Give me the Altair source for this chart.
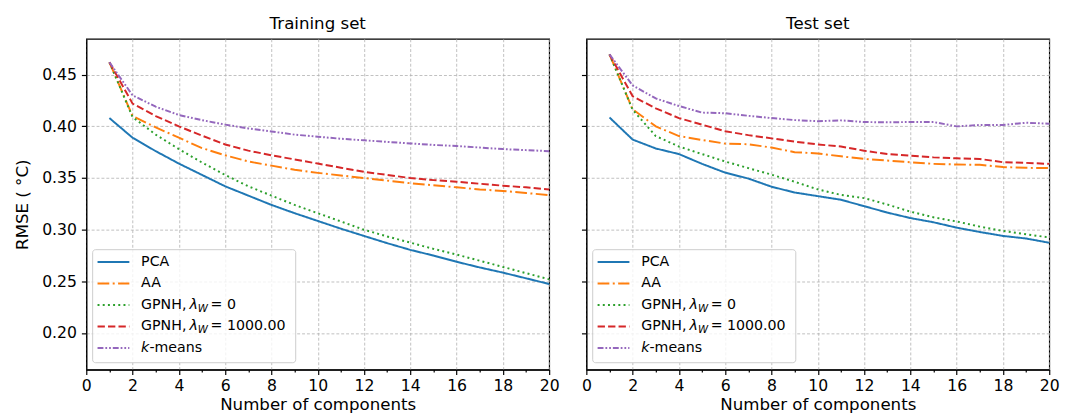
import altair as alt
import pandas as pd

components = list(range(1, 21))
series_keys = ["PCA", "AA", "GPNH0", "GPNH1000", "kmeans"]

train_pca = [0.408, 0.389, 0.376, 0.364, 0.353, 0.342, 0.333, 0.324, 0.316, 0.3085,
             0.301, 0.294, 0.287, 0.2805, 0.275, 0.269, 0.2635, 0.2585, 0.253, 0.2475]
train_aa = [0.462, 0.410, 0.399, 0.389, 0.379, 0.372, 0.366, 0.362, 0.358, 0.355,
            0.3525, 0.350, 0.3475, 0.345, 0.343, 0.341, 0.339, 0.3375, 0.3355, 0.3335]
train_gpnh0 = [0.462, 0.409, 0.392, 0.378, 0.365, 0.353, 0.342, 0.333, 0.324, 0.316,
               0.308, 0.300, 0.2935, 0.2875, 0.2815, 0.276, 0.270, 0.264, 0.258, 0.252]
train_gpnh1000 = [0.462, 0.422, 0.410, 0.400, 0.391, 0.3825, 0.3765, 0.372, 0.368, 0.364,
                  0.360, 0.356, 0.353, 0.350, 0.348, 0.3464, 0.3445, 0.3426, 0.341, 0.339]
train_kmeans = [0.462, 0.430, 0.419, 0.411, 0.406, 0.4017, 0.398, 0.395, 0.392, 0.390,
                0.388, 0.3865, 0.385, 0.3835, 0.382, 0.381, 0.3795, 0.378, 0.377, 0.376]

test_pca = [0.4086, 0.3872, 0.3786, 0.3732, 0.3637, 0.3552, 0.3495, 0.3416, 0.336, 0.3325,
            0.329, 0.3228, 0.3166, 0.3113, 0.3072, 0.302, 0.2978, 0.294, 0.2915, 0.2874]
test_aa = [0.4696, 0.4165, 0.400, 0.3906, 0.3868, 0.3833, 0.3827, 0.3795, 0.375, 0.3738,
           0.371, 0.3685, 0.3669, 0.3653, 0.3637, 0.3631, 0.3628, 0.3606, 0.3599, 0.3596]
test_gpnh0 = [0.4696, 0.416, 0.3906, 0.3805, 0.3732, 0.366, 0.3596, 0.3533, 0.3464, 0.339,
              0.3337, 0.3306, 0.3244, 0.3175, 0.312, 0.308, 0.303, 0.2988, 0.2956, 0.2925]
test_gpnh1000 = [0.4696, 0.4291, 0.4174, 0.408, 0.4016, 0.3953, 0.3915, 0.3884, 0.3852, 0.3825,
                 0.3805, 0.3764, 0.3732, 0.3716, 0.370, 0.3691, 0.3685, 0.3653, 0.3647, 0.3637]
test_kmeans = [0.4696, 0.4396, 0.427, 0.4197, 0.4133, 0.4127, 0.4102, 0.408, 0.4061, 0.405,
               0.4058, 0.4042, 0.4039, 0.4042, 0.4042, 0.400, 0.4013, 0.4013, 0.4035, 0.4026]

colors = ["#1f77b4", "#ff7f0e", "#2ca02c", "#d62728", "#9467bd"]
dash_patterns = [[1, 0], [12, 3.5, 2, 3.5], [2, 3.3], [7.5, 3.2], [6, 2, 1.8, 2, 1.8, 2]]

x_ticks = list(range(0, 21, 2))
x_minor = list(range(1, 20, 2))
y_ticks = [0.20, 0.25, 0.30, 0.35, 0.40, 0.45]
y_domain = [0.1647, 0.4847]

# legend text pieces: (row, text, kind)
legend_parts = [
    (0, "PCA", "normal"),
    (1, "AA", "normal"),
    (2, "GPNH,", "normal"), (2, "λ", "italic"), (2, "W", "sub"), (2, "= 0", "normal"),
    (3, "GPNH,", "normal"), (3, "λ", "italic"), (3, "W", "sub"), (3, "= 1000.00", "normal"),
    (4, "k", "italic"), (4, "-means", "normal"),
]
PW, PH = 473, 338
ROWSTEP = 22
ROW0 = PH - 110


def part_x(row, text, kind):
    if kind == "sub":
        return 114
    if text == "λ":
        return 105.5
    if text.startswith("="):
        return 127
    if text == "-means":
        return 64.5
    return 56


def make_panel(vals, title, first):
    rows = []
    for key, arr in zip(series_keys, vals):
        for c, v in zip(components, arr):
            rows.append({"comp": c, "rmse": v, "series": key})
    df = pd.DataFrame(rows)

    xs = alt.Scale(domain=[0, 20], nice=False, padding=0)
    ys = alt.Scale(domain=y_domain, nice=False, zero=False, padding=0)
    color = alt.Color("series:N", scale=alt.Scale(domain=series_keys, range=colors), legend=None)
    dash = alt.StrokeDash("series:N", scale=alt.Scale(domain=series_keys, range=dash_patterns), legend=None)

    xaxis = alt.Axis(values=x_ticks, title="Number of components", grid=True, orient="bottom",
                     labelFlush=False)
    if first:
        yaxis = alt.Axis(values=y_ticks, format=".2f", title="RMSE ( °C)", grid=True, labelFlush=False)
    else:
        yaxis = alt.Axis(values=y_ticks, format=".2f", title=None, labels=False, grid=True)
    minor_axis = alt.Axis(values=x_minor, labels=False, grid=False, domain=False, tickSize=2.5,
                          title=None, orient="bottom")

    lines = alt.Chart(df).mark_line(strokeWidth=2).encode(
        x=alt.X("comp:Q", scale=xs, axis=xaxis),
        y=alt.Y("rmse:Q", scale=ys, axis=yaxis),
        color=color,
        strokeDash=dash,
    )
    minor = alt.Chart(df).mark_line(opacity=0).encode(
        x=alt.X("comp:Q", scale=xs, axis=minor_axis),
        y=alt.Y("rmse:Q", scale=ys, axis=yaxis),
        detail="series:N",
    )

    top = ROW0 - 12.5
    frame = alt.Chart(alt.Data(values=[{"a": 1}])).mark_rect(
        fill="white", fillOpacity=0.8, stroke="#cccccc", strokeWidth=1, cornerRadius=3
    ).encode(x=alt.value(6.5), x2=alt.value(214), y=alt.value(top), y2=alt.value(top + 115.5))

    leg_df = pd.DataFrame({"series": series_keys, "row": list(range(5))})
    handles = alt.Chart(leg_df).transform_calculate(py=f"{ROW0} + {ROWSTEP} * datum.row").mark_rule(
        strokeWidth=2
    ).encode(
        x=alt.value(11.5), x2=alt.value(44),
        y=alt.Y("py:Q", scale=None, axis=None),
        color=color, strokeDash=dash,
    )

    pdf = pd.DataFrame([
        {"row": r, "t": t, "kind": k, "tx": part_x(r, t, k)} for r, t, k in legend_parts
    ])
    texts = []
    for kind, size, style, dy in [("normal", 14.5, "normal", 0), ("italic", 14.5, "italic", 0),
                                  ("sub", 10.5, "italic", 4)]:
        texts.append(
            alt.Chart(pdf).transform_filter(alt.datum.kind == kind)
            .transform_calculate(ty=f"{ROW0} + {ROWSTEP} * datum.row + {dy}")
            .mark_text(align="left", baseline="middle", fontSize=size, fontStyle=style,
                       font="DejaVu Sans", color="black")
            .encode(
                x=alt.X("tx:Q", scale=None, axis=None),
                y=alt.Y("ty:Q", scale=None, axis=None),
                text="t:N",
            )
        )

    layer = alt.layer(minor, lines, frame, handles, *texts).resolve_axis(x="independent").properties(
        width=PW, height=PH,
        title=alt.TitleParams(title, fontSize=17, fontWeight="normal", font="DejaVu Sans",
                              color="black", offset=6),
    )
    return layer


left = make_panel([train_pca, train_aa, train_gpnh0, train_gpnh1000, train_kmeans], "Training set", True)
right = make_panel([test_pca, test_aa, test_gpnh0, test_gpnh1000, test_kmeans], "Test set", False)

chart = alt.hconcat(left, right, spacing=20).properties(
    padding={"left": 5, "top": 2, "right": 0, "bottom": 0}
).configure_view(
    stroke="black", strokeWidth=1.2
).configure_axis(
    domainColor="black", domainWidth=1.2, tickColor="black", tickWidth=1.2, tickSize=5,
    labelColor="black", labelFont="DejaVu Sans", labelFontSize=16,
    titleFont="DejaVu Sans", titleFontSize=17, titleFontWeight="normal", titleColor="black",
    gridColor="#b0b0b0", gridWidth=0.8, gridDash=[3, 2],
).configure_axisX(labelPadding=3, titlePadding=4).configure_axisY(labelPadding=5, titlePadding=10)

chart.save("out.html", embed_options={"renderer": "svg", "actions": False})
